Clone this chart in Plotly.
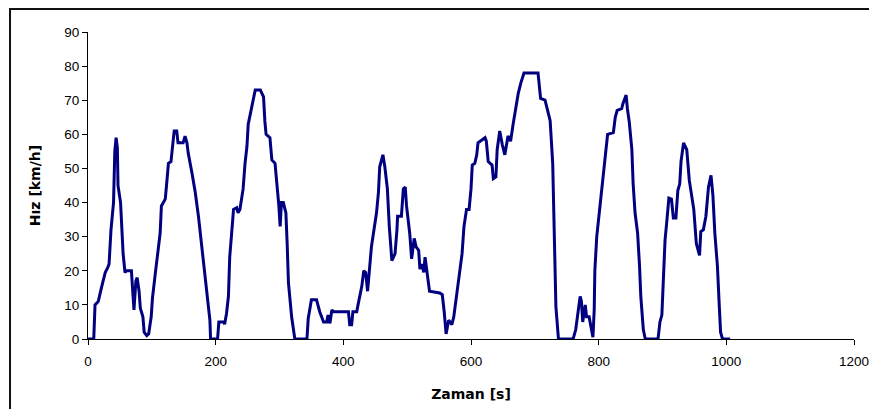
import plotly.graph_objects as go

time_s = [0, 9, 11, 16, 21, 24, 27, 31, 33, 36, 40, 42, 43, 44, 46, 47, 51, 53, 55, 58,
          60, 68, 70, 72, 75, 77, 80, 82, 86, 88, 92, 95, 99, 101, 105, 109, 113, 115, 121, 123,
          126, 130, 133, 135, 139, 141, 149, 152, 155, 157, 163, 168, 173, 178, 183, 187, 191, 192, 203, 205,
          213, 214, 217, 220, 222, 225, 228, 233, 235, 238, 241, 243, 246, 249, 251, 255, 258, 262, 270, 275,
          277, 279, 285, 288, 293, 296, 299, 301, 303, 306, 310, 312, 314, 319, 324, 343, 345, 350, 358, 363,
          369, 374, 376, 379, 382, 385, 408, 410, 413, 415, 421, 423, 429, 432, 435, 438, 441, 444, 448, 452,
          455, 457, 462, 465, 469, 472, 476, 481, 484, 485, 491, 494, 497, 499, 504, 507, 511, 514, 518, 520,
          523, 526, 528, 531, 535, 551, 555, 558, 561, 565, 570, 573, 578, 582, 586, 589, 593, 597, 600, 602,
          606, 609, 611, 622, 624, 627, 633, 635, 639, 641, 645, 649, 653, 658, 662, 666, 670, 674, 678, 683,
          705, 707, 709, 716, 720, 724, 728, 730, 733, 737, 760, 764, 768, 771, 773, 775, 779, 781, 785, 788,
          791, 793, 794, 797, 801, 805, 807, 810, 814, 823, 826, 829, 836, 838, 843, 845, 848, 852, 854, 857,
          861, 864, 866, 870, 873, 893, 896, 899, 902, 904, 907, 910, 914, 917, 921, 924, 927, 929, 933, 938,
          942, 946, 949, 953, 958, 960, 964, 968, 972, 976, 979, 982, 986, 989, 991, 994, 1006]

speed_kmh = [0, 0, 10, 11, 15, 17, 19.5, 21, 22, 32, 40, 55, 57, 59, 56, 45, 40, 31, 25, 19.5,
             20, 20, 13.5, 8.5, 17, 18, 14, 9, 6.5, 2, 1, 1.5, 6.5, 12, 18.5, 25, 31, 39, 41, 45,
             51.5, 52, 57.5, 61, 61, 57.5, 57.5, 59.5, 57.5, 54.5, 48.5, 43, 36, 27, 20, 12.5, 5.5, 0, 0, 5,
             5, 4.3, 7.5, 12.5, 24, 31, 38, 38.5, 37, 38, 42, 44, 51.5, 56.5, 63, 66.5, 69, 73, 73, 71,
             64, 60, 59, 52.5, 51.5, 45.5, 39, 33, 40, 40, 37, 28, 16.5, 6.5, 0, 0, 6, 11.5, 11.5, 8,
             5, 5, 7, 4.6, 8.5, 8, 8, 4.2, 4.2, 8, 8, 10, 15.5, 20, 19.5, 14, 20, 27, 32, 37,
             43, 50.5, 54, 50.5, 44, 33, 23, 25, 32, 36, 36, 44, 44.5, 39, 31, 23.5, 29.5, 27, 26, 20.5,
             22, 19.5, 24, 19, 14, 13.5, 13, 8, 1.5, 5.5, 4.2, 6.5, 13.5, 18.5, 25, 33, 38, 38, 44, 51,
             51.5, 54, 57.5, 59, 58, 52, 51, 47, 47.5, 55.5, 61, 57, 54, 59.5, 58, 63, 68, 72, 75, 78,
             78, 75, 70.5, 70, 66.5, 64, 51.5, 31, 9.5, 0, 0, 2.7, 7.5, 12.5, 11, 5, 10, 6.5, 6.5, 3.7,
             0.5, 8.5, 20, 30, 37, 43.5, 47.5, 51.5, 60, 60.5, 65, 67, 67.5, 69, 71.5, 67.5, 63.5, 55.5, 45.5, 37,
             31, 21.5, 12.5, 2.7, 0, 0, 5, 7, 20, 29, 35, 41.3, 41, 35.5, 35.5, 43.5, 45.5, 52, 57.5, 55.5,
             46.5, 41, 38, 28, 24.5, 31.5, 32, 36, 44.5, 48, 42, 31, 21.5, 9.5, 2, 0, 0]

x_ticks = [0, 200, 400, 600, 800, 1000, 1200]
y_ticks = [0, 10, 20, 30, 40, 50, 60, 70, 80, 90]

fig = go.Figure()
fig.add_trace(go.Scatter(x=time_s, y=speed_kmh, mode="lines",
                         line=dict(color="#000080", width=3), showlegend=False,
                         hoverinfo="skip"))

tick_font = dict(family="Liberation Sans, Arial, sans-serif", size=13.5, color="black")
title_font = dict(family="DejaVu Sans, Liberation Sans, Arial, sans-serif", size=14, color="black")
fig.update_layout(
    width=861, height=401,
    margin=dict(l=80, r=15, t=24, b=70, autoexpand=False),
    paper_bgcolor="white", plot_bgcolor="white",
    font=dict(family="Liberation Sans, Arial, sans-serif", size=14, color="black"),
    xaxis=dict(range=[0, 1200], tickvals=x_ticks, showgrid=False, zeroline=False,
               showline=True, linecolor="black", linewidth=1, automargin=False,
               ticks="outside", ticklen=5, tickcolor="black", ticklabelstandoff=5,
               ticklabeloverflow="allow", tickfont=tick_font,
               title=dict(text="<b>Zaman [s]</b>", standoff=20, font=title_font)),
    yaxis=dict(range=[0, 90], tickvals=y_ticks, showgrid=False, zeroline=False,
               showline=True, linecolor="black", linewidth=1, automargin=False,
               ticks="outside", ticklen=5, tickcolor="black", tickfont=tick_font,
               title=dict(text="<b>Hız [km/h]</b>", standoff=20, font=title_font)),
    shapes=[dict(type="rect", xref="paper", yref="paper",
                 x0=-0.1018, x1=1.08, y0=-0.35, y1=1.0749,
                 line=dict(color="#111111", width=2), fillcolor="rgba(0,0,0,0)", layer="below")],
)

fig.write_html("out.html")
